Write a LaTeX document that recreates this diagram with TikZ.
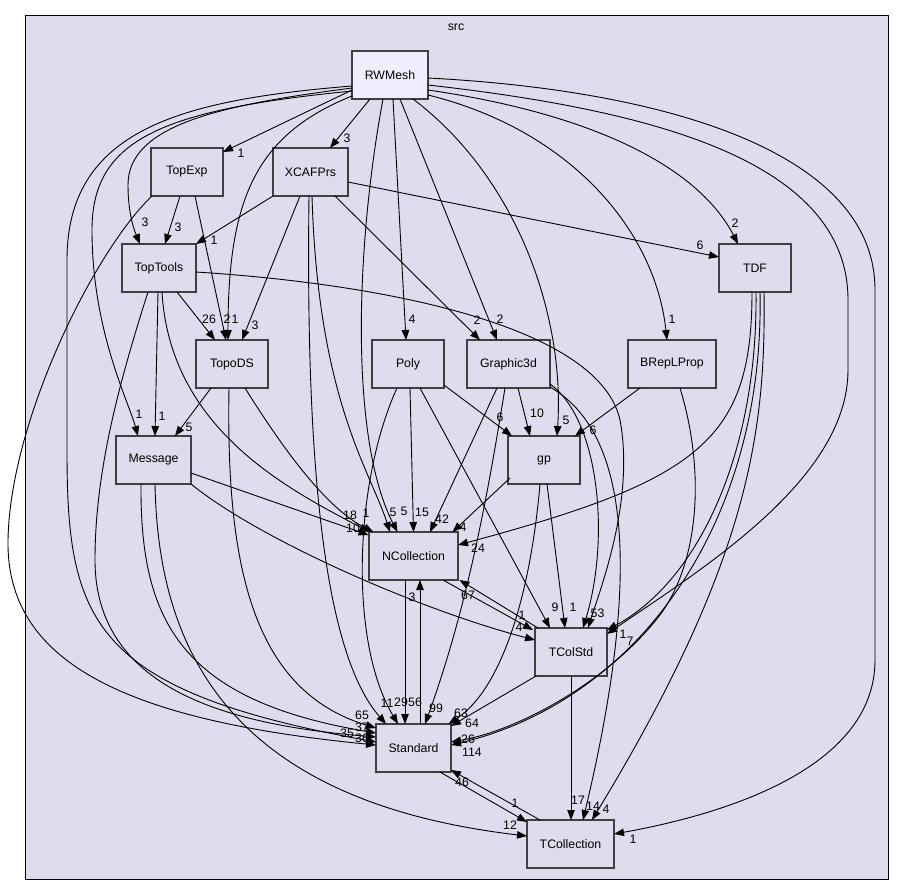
\documentclass[tikz,border=0pt]{standalone}
\usepackage{fontspec}
\setmainfont{Liberation Sans}
\usetikzlibrary{arrows.meta,calc}
\definecolor{bgc}{HTML}{DDDDEE}
\definecolor{hl}{HTML}{EEEEFF}
\definecolor{bd}{HTML}{404040}
\begin{document}
\begin{tikzpicture}[x=1pt,y=-1pt,
  box/.style={draw=bd, line width=1.3pt, fill=bgc, minimum height=48pt, inner sep=0pt, font=\fontsize{12.3}{14}\selectfont},
  e/.style={line width=0.9pt, -{Triangle[length=10pt,width=7.5pt]}},
  lbl/.style={font=\fontsize{12.3}{14}\selectfont, inner sep=0pt}]
\useasboundingbox (0,0) rectangle (903,895);
\node[draw=black, line width=0.8pt, fill=bgc, minimum width=863pt, minimum height=864pt, inner sep=0pt] (src) at (456.5,447) {};
\node[lbl] (srclbl) at (456,27) {src};
% nodes
\node[box, fill=hl, minimum width=76pt] (RWMesh) at (390,75) {RWMesh};
\node[box, minimum width=72pt] (TopExp) at (187,172) {TopExp};
\node[box, minimum width=75pt] (XCAFPrs) at (310.5,172) {XCAFPrs};
\node[box, minimum width=74pt] (TopTools) at (159,268) {TopTools};
\node[box, minimum width=72pt] (TDF) at (755,268) {TDF};
\node[box, minimum width=72pt] (TopoDS) at (232,364) {TopoDS};
\node[box, minimum width=72pt] (Poly) at (408,364) {Poly};
\node[box, minimum width=83pt] (Graphic3d) at (508.5,364) {Graphic3d};
\node[box, minimum width=88pt] (BRepLProp) at (672,364) {BRepLProp};
\node[box, minimum width=75pt] (Message) at (153.5,460) {Message};
\node[box, minimum width=72pt] (gp) at (544,460) {gp};
\node[box, minimum width=89pt] (NCollection) at (413.5,556) {NCollection};
\node[box, minimum width=72pt] (TColStd) at (571,652) {TColStd};
\node[box, minimum width=75pt] (Standard) at (413.5,748) {Standard};
\node[box, minimum width=87pt] (TCollection) at (570.5,844) {TCollection};
% edges from RWMesh
\draw[e] ($(RWMesh)+(-38,15)$) -- ($(TopExp)+(36,-20)$);
\draw[e] ($(RWMesh)+(-20,24)$) -- ($(XCAFPrs)+(19.5,-24)$);
\draw[e] ($(RWMesh)+(-38,13)$) .. controls (220,105) and (128,125) .. (128,185) .. controls (128,215) and (135,232) .. ($(TopTools)+(-19,-24)$);
\draw[e] ($(RWMesh)+(-38,21)$) .. controls (255,135) and (228,200) .. ($(TopoDS)+(-4,-24)$);
\draw[e] ($(RWMesh)+(-38,16)$) .. controls (160,110) and (92,140) .. (92,230) .. controls (92,330) and (128,400) .. ($(Message)+(-15.5,-24)$);
\draw[e] ($(RWMesh)+(-38,11)$) .. controls (180,100) and (67,130) .. (67,260) -- (67,450) .. controls (67,620) and (90,690) .. ($(Standard)+(-37.5,-6)$);
\draw[e] ($(RWMesh)+(-7,24)$) .. controls (355,250) and (350,440) .. ($(NCollection)+(-16,-24)$);
\draw[e] ($(RWMesh)+(3,24)$) -- ($(Poly)+(-2,-24)$);
\draw[e] ($(RWMesh)+(10,24)$) -- ($(Graphic3d)+(-11.5,-24)$);
\draw[e] ($(RWMesh)+(23,24)$) .. controls (520,180) and (565,320) .. ($(gp)+(13,-24)$);
\draw[e] ($(RWMesh)+(38,20)$) .. controls (570,130) and (655,230) .. ($(BRepLProp)+(-5,-24)$);
\draw[e] ($(RWMesh)+(38,15)$) .. controls (600,115) and (700,170) .. ($(TDF)+(-17,-24)$);
\draw[e] ($(RWMesh)+(38,10)$) .. controls (650,110) and (848,160) .. (848,300) -- (848,370) .. controls (848,480) and (700,570) .. ($(TColStd)+(36,-18)$);
\draw[e] ($(RWMesh)+(38,3)$) .. controls (660,90) and (875,150) .. (875,290) -- (875,660) .. controls (875,770) and (720,815) .. ($(TCollection)+(43.5,-10)$);
% XCAFPrs
\draw[e] ($(XCAFPrs)+(-37.5,24)$) -- ($(TopTools)+(37,-24)$);
\draw[e] ($(XCAFPrs)+(-10.5,24)$) -- ($(TopoDS)+(10,-24)$);
\draw[e] ($(XCAFPrs)+(1.5,24)$) .. controls (318,400) and (370,470) .. ($(NCollection)+(-23.5,-24)$);
\draw[e] ($(XCAFPrs)+(-1.5,24)$) .. controls (305,500) and (330,660) .. ($(Standard)+(-27.5,-24)$);
\draw[e] ($(XCAFPrs)+(24.5,24)$) -- ($(Graphic3d)+(-28.5,-24)$);
\draw[e] ($(XCAFPrs)+(37.5,10)$) -- ($(TDF)+(-36,-11)$);
% TopExp
\draw[e] ($(TopExp)+(-7,24)$) -- ($(TopTools)+(6,-24)$);
\draw[e] ($(TopExp)+(8,24)$) -- ($(TopoDS)+(-6,-24)$);
\draw[e] ($(TopExp)+(-35,24)$) .. controls (95,250) and (10,420) .. (8,540) .. controls (6,660) and (120,720) .. ($(Standard)+(-37.5,-3)$);
% TopTools
\draw[e] ($(TopTools)+(18,24)$) -- ($(TopoDS)+(-17,-24)$);
\draw[e] ($(TopTools)+(-1,24)$) -- ($(Message)+(1.5,-24)$);
\draw[e] ($(TopTools)+(3,24)$) .. controls (170,430) and (290,490) .. ($(NCollection)+(-44,-24)$);
\draw[e] ($(TopTools)+(-11,24)$) .. controls (120,380) and (95,470) .. (95,560) .. controls (95,690) and (230,725) .. ($(Standard)+(-37.5,-11)$);
\draw[e] ($(TopTools)+(37,4)$) .. controls (400,285) and (600,330) .. (620,420) .. controls (635,500) and (600,590) .. ($(TColStd)+(17,-24)$);
% TDF
\draw[e] ($(TDF)+(-3,24)$) .. controls (752,440) and (700,480) .. ($(NCollection)+(44.5,-11)$);
\draw[e] ($(TDF)+(1,24)$) .. controls (758,450) and (700,580) .. ($(TColStd)+(36,-22)$);
\draw[e] ($(TDF)+(5,24)$) .. controls (765,520) and (640,700) .. ($(Standard)+(37.5,-3)$);
\draw[e] ($(TDF)+(9,24)$) .. controls (766,430) and (750,560) .. ($(TCollection)+(21.5,-24)$);
% BRepLProp
\draw[e] ($(BRepLProp)+(-32,24)$) -- ($(gp)+(31,-24)$);
\draw[e] ($(BRepLProp)+(8,24)$) .. controls (705,470) and (700,560) .. (660,615) .. controls (610,680) and (520,730) .. ($(Standard)+(37.5,-6)$);
% Poly
\draw[e] ($(Poly)+(2,24)$) -- ($(NCollection)+(0,-24)$);
\draw[e] ($(Poly)+(36,21)$) -- ($(gp)+(-32,-24)$);
\draw[e] ($(Poly)+(12,24)$) -- ($(TColStd)+(-21,-24)$);
\draw[e] ($(Poly)+(-11,24)$) .. controls (355,480) and (348,640) .. ($(Standard)+(-15.5,-24)$);
% Graphic3d
\draw[e] ($(Graphic3d)+(-11.5,24)$) -- ($(NCollection)+(16.5,-24)$);
\draw[e] ($(Graphic3d)+(9.5,24)$) -- ($(gp)+(-14,-24)$);
\draw[e] ($(Graphic3d)+(-3.5,24)$) .. controls (490,480) and (470,600) .. ($(Standard)+(11.5,-24)$);
\draw[e] ($(Graphic3d)+(41.5,20)$) .. controls (600,420) and (610,540) .. ($(TColStd)+(12,-24)$);
\draw[e] ($(Graphic3d)+(41.5,23)$) .. controls (625,430) and (645,560) .. ($(TCollection)+(12.5,-24)$);
% gp
\draw[e] ($(gp)+(-34,18)$) -- ($(NCollection)+(39,-24)$);
\draw[e] ($(gp)+(3,24)$) -- ($(TColStd)+(-6,-24)$);
\draw[e] ($(gp)+(-4,24)$) .. controls (530,600) and (500,690) .. ($(Standard)+(35,-24)$);
% Message
\draw[e] ($(Message)+(37.5,13)$) -- ($(NCollection)+(-45,-21)$);
\draw[e] ($(Message)+(37.5,24)$) .. controls (260,540) and (420,610) .. ($(TColStd)+(-36,-12)$);
\draw[e] ($(Message)+(-12.5,24)$) .. controls (140,620) and (180,700) .. ($(Standard)+(-37.5,-15)$);
\draw[e] ($(Message)+(1.5,24)$) .. controls (158,640) and (220,800) .. ($(TCollection)+(-43.5,-8)$);
% TopoDS
\draw[e] ($(TopoDS)+(-21,24)$) -- ($(Message)+(21.5,-24)$);
\draw[e] ($(TopoDS)+(13,24)$) .. controls (290,460) and (330,510) .. ($(NCollection)+(-40,-24)$);
\draw[e] ($(TopoDS)+(-3,24)$) .. controls (226,560) and (250,690) .. ($(Standard)+(-37.5,-20)$);
% NCollection / TColStd / Standard / TCollection
\draw[e] ($(NCollection)+(-8.5,24)$) -- ($(Standard)+(-8.5,-24)$);
\draw[e] ($(Standard)+(6.5,-24)$) -- ($(NCollection)+(6.5,24)$);
\draw[e] ($(NCollection)+(29.5,24)$) -- ($(TColStd)+(-38,-22)$);
\draw[e] ($(TColStd)+(-33,-24)$) -- ($(NCollection)+(46,24)$);
\draw[e] ($(TColStd)+(0,24)$) -- ($(TCollection)+(0.5,-24)$);
\draw[e] ($(TColStd)+(-35,24)$) -- ($(Standard)+(37.5,-22)$);
\draw[e] ($(Standard)+(26.5,24)$) -- ($(TCollection)+(-43.5,-22)$);
\draw[e] ($(TCollection)+(-30.5,-24)$) -- ($(Standard)+(37.5,22)$);
% labels
\node[lbl] (l1) at (241,153) {1};
\node[lbl] (l2) at (347,138) {3};
\node[lbl] (l3) at (145,222) {3};
\node[lbl] (l4) at (235,319) {1};
\node[lbl] (l5) at (139,414) {1};
\node[lbl] (l7) at (404,511) {5};
\node[lbl] (l8) at (412,319) {4};
\node[lbl] (l9) at (500,319) {2};
\node[lbl] (l10) at (566,420) {5};
\node[lbl] (l11) at (672,319) {1};
\node[lbl] (l12) at (735,223) {2};
\node[lbl] (l13) at (623,634) {1};
\node[lbl] (l14) at (633,839) {1};
\node[lbl] (l15) at (214,240) {1};
\node[lbl] (l16) at (255,325) {3};
\node[lbl] (l17) at (393,512) {5};
\node[lbl] (l18) at (387,703) {11};
\node[lbl] (l19) at (477,320) {2};
\node[lbl] (l20) at (700,245) {6};
\node[lbl] (l21) at (178,227) {3};
\node[lbl] (l22) at (227,319) {2};
\node[lbl] (l24) at (209,319) {26};
\node[lbl] (l25) at (162,416) {1};
\node[lbl] (l26) at (350,515) {18};
\node[lbl] (l27) at (347,733) {35};
\node[lbl] (l28) at (601,613) {3};
\node[lbl] (l29) at (478,548) {24};
\node[lbl] (l30) at (630,641) {7};
\node[lbl] (l31) at (472,752) {114};
\node[lbl] (l32) at (606,809) {4};
\node[lbl] (l33) at (593,430) {6};
\node[lbl] (l34) at (468,739) {26};
\node[lbl] (l35) at (422,512) {15};
\node[lbl] (l36) at (500,417) {6};
\node[lbl] (l37) at (555,607) {9};
\node[lbl] (l38) at (401,702) {29};
\node[lbl] (l39) at (442,519) {42};
\node[lbl] (l40) at (537,413) {10};
\node[lbl] (l41) at (436,708) {99};
\node[lbl] (l42) at (594,613) {5};
\node[lbl] (l43) at (593,806) {14};
\node[lbl] (l44) at (463,527) {4};
\node[lbl] (l45) at (573,607) {1};
\node[lbl] (l46) at (472,723) {64};
\node[lbl] (l47) at (353,528) {10};
\node[lbl] (l48) at (519,627) {4};
\node[lbl] (l49) at (362,727) {37};
\node[lbl] (l50) at (510,825) {12};
\node[lbl] (l51) at (189,427) {5};
\node[lbl] (l52) at (366,513) {1};
\node[lbl] (l53) at (362,715) {65};
\node[lbl] (l54) at (415,702) {56};
\node[lbl] (l55) at (412,597) {3};
\node[lbl] (l56) at (522,615) {1};
\node[lbl] (l57) at (468,595) {67};
\node[lbl] (l58) at (578,800) {17};
\node[lbl] (l59) at (461,713) {63};
\node[lbl] (l60) at (515,803) {1};
\node[lbl] (l61) at (462,782) {46};
\node[lbl] (l62) at (362,738) {36};
\end{tikzpicture}
\end{document}
